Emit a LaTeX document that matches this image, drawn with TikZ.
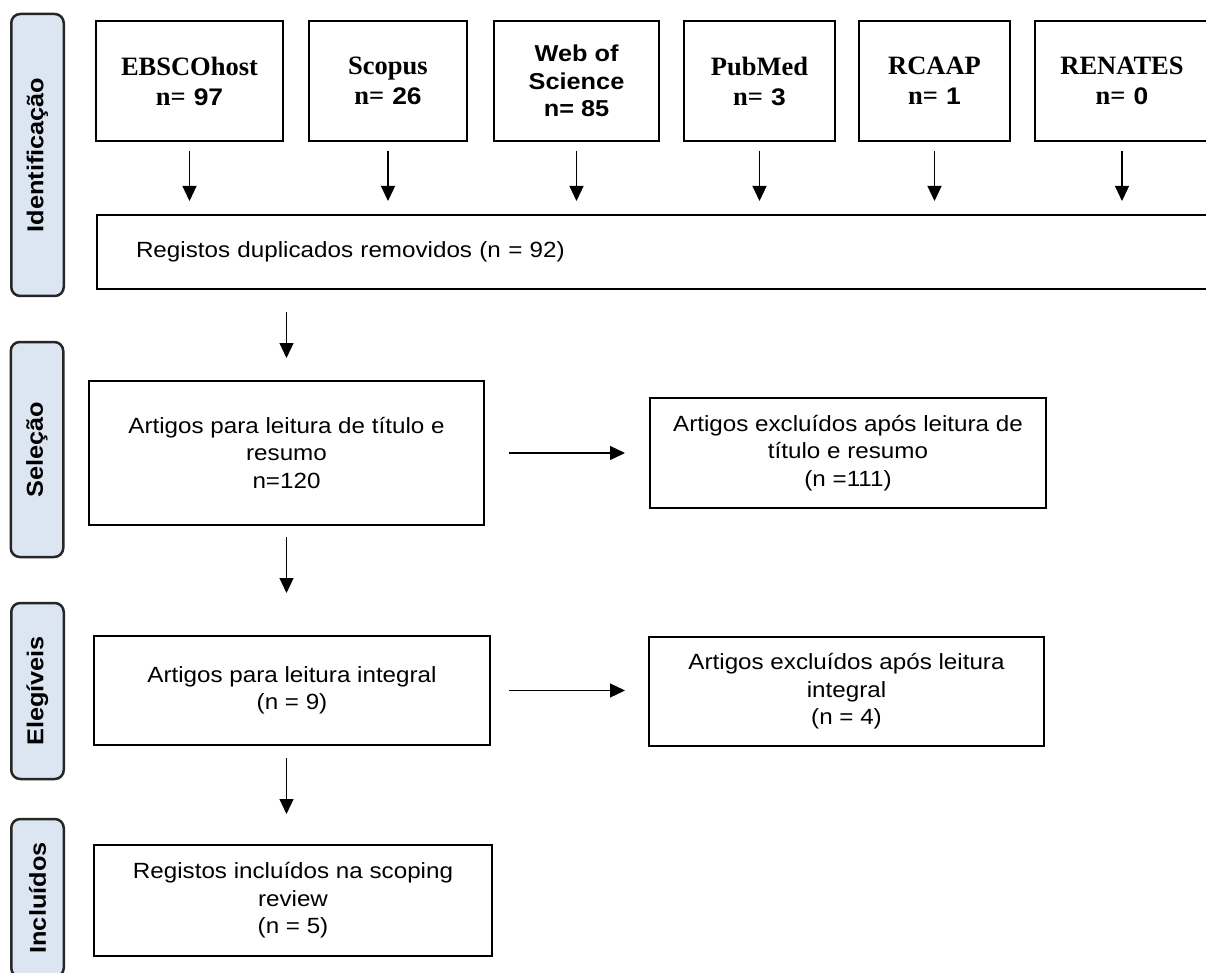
\documentclass[tikz,border=0pt]{standalone}
\usepackage{fontspec}
\setmainfont[FakeStretch=1.1]{Liberation Sans}
\newfontfamily\timesbf{Liberation Serif}
\usetikzlibrary{arrows.meta}
\definecolor{phasefill}{HTML}{DCE6F2}
\newcommand\srcname[2]{{\timesbf\bfseries #1}\\{\timesbf\bfseries n=} {\fontsize{24}{30}\selectfont\bfseries #2}}

\begin{document}
\begin{tikzpicture}[x=1pt,y=-1pt,
  box/.style={draw,line width=2pt,align=center,inner sep=0pt,font=\fontsize{22}{27.5}\selectfont},
  src/.style={box,minimum height=120pt,font=\fontsize{26.5}{30}\selectfont},
  phase/.style={draw=black!85,line width=2.5pt,fill=phasefill,rounded corners=9pt,rotate=90,
    minimum height=52.5pt,inner sep=0pt,font=\fontsize{23}{26}\selectfont\bfseries},
  arr/.style={-{Triangle[length=15pt,width=14pt]},line width=1.2pt}]
  \useasboundingbox (0,0) rectangle (1206,973);
  \clip (0,0) rectangle (1206,973);

  \node[phase,minimum width=282pt] (pid) at (37.5,155) {Identificação};
  \node[phase,minimum width=215pt] (psel) at (37,449.5) {Seleção};
  \node[phase,minimum width=176pt] (peleg) at (37.5,691) {Elegíveis};
  \node[phase,minimum width=158pt] (pincl) at (37.5,898) {Incluídos};

  \node[src,minimum width=187pt] (ebsco) at (189.5,81) {\srcname{EBSCOhost}{97}};
  \node[src,minimum width=158pt] (scopus) at (388,81) {\srcname{Scopus}{26}};
  \node[src,minimum width=165pt,font=\fontsize{23}{27.5}\selectfont\bfseries] (wos) at (576.5,81) {Web of\\Science\\n= 85};
  \node[src,minimum width=151pt] (pubmed) at (759.5,81) {\srcname{PubMed}{3}};
  \node[src,minimum width=151pt] (rcaap) at (934.5,81) {\srcname{RCAAP}{1}};
  \node[src,minimum width=174pt] (renates) at (1122,81) {\srcname{RENATES}{0}};

  \node[box,anchor=west,minimum height=74pt,text width=1080pt,inner xsep=39pt,align=left] (dup) at (96,252)
    {Registos duplicados removidos (n = 92)};

  \node[box,minimum width=395pt,minimum height=144pt] (sel) at (286.5,453) {Artigos para leitura de título e\\resumo\\n=120};
  \node[box,minimum width=396pt,minimum height=110pt] (exsel) at (848,453) {Artigos excluídos após leitura de\\título e resumo\\(n =111)};
  \node[box,minimum width=396pt,minimum height=109pt] (eleg) at (292,690.5) {Artigos para leitura integral\\(n = 9)};
  \node[box,minimum width=395pt,minimum height=109pt] (exeleg) at (846.5,691.5) {Artigos excluídos após leitura\\integral\\(n = 4)};
  \node[box,minimum width=398pt,minimum height=111pt] (incl) at (293,900.5) {Registos incluídos na scoping\\review\\(n = 5)};

  \foreach \s in {ebsco,scopus,wos,pubmed,rcaap,renates}
    \draw[arr,shorten <=9pt,shorten >=13pt] (\s.south) -- (dup.north -| \s.south);
  \draw[arr,shorten <=22pt,shorten >=22pt] (dup.south -| sel.north) -- (sel.north);
  \draw[arr,shorten <=11pt,shorten >=42pt] (sel.south) -- (eleg.north -| sel.south);
  \draw[arr,shorten <=12pt,shorten >=30pt] (eleg.south -| sel.south) -- (incl.north -| sel.south);
  \draw[arr,shorten <=24pt,shorten >=24pt] (sel.east) -- (exsel.west);
  \draw[arr,shorten <=18pt,shorten >=23pt] (eleg.east) -- (exeleg.west |- eleg.east);
\end{tikzpicture}
\end{document}
